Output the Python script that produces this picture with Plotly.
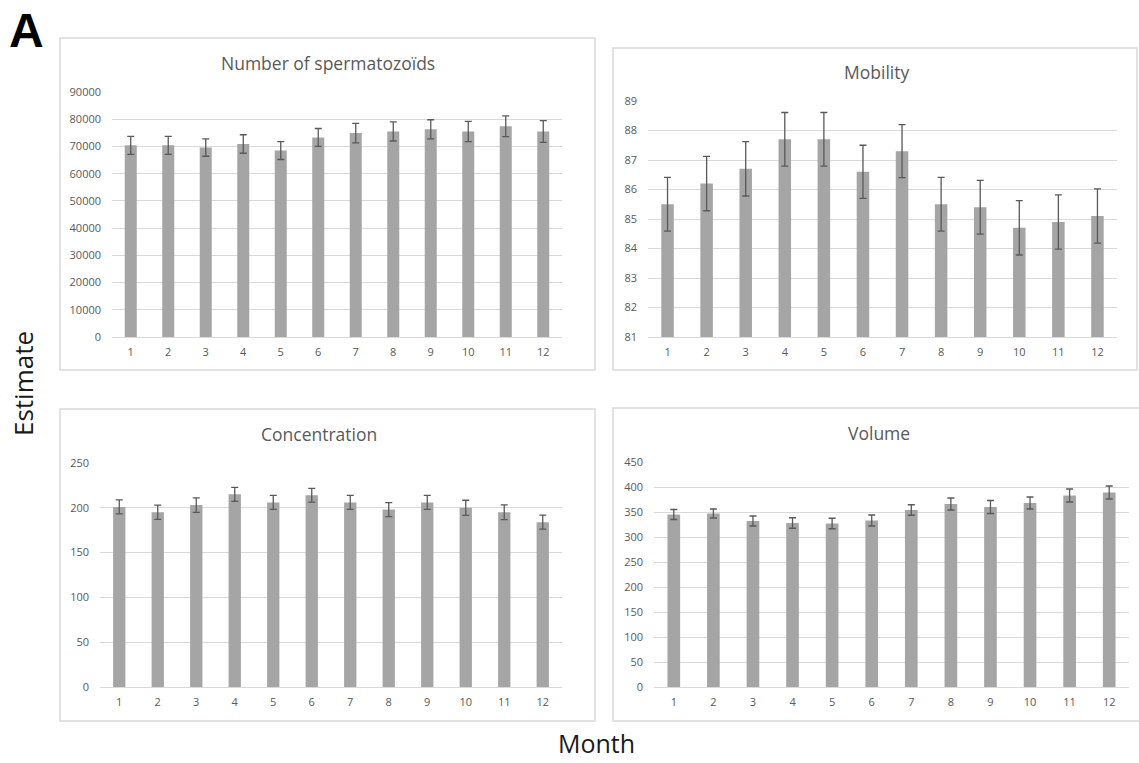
import plotly.graph_objects as go

W, H = 1139, 763

months = [str(m) for m in range(1, 13)]

sperm_count = [70400, 70400, 69600, 70900, 68500, 73300, 74900, 75500, 76300, 75500, 77400, 75500]
sperm_err = [3300, 3300, 3200, 3400, 3300, 3300, 3600, 3500, 3500, 3700, 3800, 4000]

mobility = [85.5, 86.2, 86.7, 87.7, 87.7, 86.6, 87.3, 85.5, 85.4, 84.7, 84.9, 85.1]
mobility_err = [0.91, 0.92, 0.92, 0.91, 0.91, 0.9, 0.9, 0.91, 0.91, 0.92, 0.92, 0.92]

concentration = [201, 195, 203, 215, 206, 214, 206, 198, 206, 200, 195, 184]
concentration_err = [7.8, 8.0, 8.0, 7.8, 7.8, 7.6, 7.8, 7.8, 7.8, 8.4, 8.2, 7.8]

volume = [345, 347, 332, 328, 327, 333, 354, 366, 360, 368, 383, 389]
volume_err = [10, 9, 10, 10.5, 10.5, 11, 10.5, 12, 13, 12, 13, 13]

titles = ["Number of spermatozoïds", "Mobility", "Concentration", "Volume"]

BAR = "#A5A5A5"
ERR = "#595959"
GRID = "#D9D9D9"
TXT = "#595959"
FONT = "Open Sans"


def px_x(x):
    return x / W


def px_y(y):
    return 1 - y / H


# plot areas in pixels: (x0, x1, ytop, ybottom)
areas = [
    (112, 562, 92, 337),
    (648, 1117, 101, 337),
    (100, 562, 463, 687),
    (654, 1129, 462, 687),
]
ranges = [[0, 90000], [81, 89], [0, 250], [0, 450]]
dticks = [10000, 1, 50, 50]
series = [(sperm_count, sperm_err), (mobility, mobility_err),
          (concentration, concentration_err), (volume, volume_err)]

fig = go.Figure()
layout = dict(
    width=W, height=H, margin=dict(l=0, r=0, t=0, b=0, pad=0, autoexpand=False),
    paper_bgcolor="white", plot_bgcolor="white", showlegend=False,
    bargap=0.68, font=dict(family=FONT, color=TXT),
)

for i, ((vals, errs), (x0, x1, yt, yb)) in enumerate(zip(series, areas)):
    n = "" if i == 0 else str(i + 1)
    fig.add_trace(go.Bar(
        x=months, y=vals, marker=dict(color=BAR, line=dict(width=0)),
        error_y=dict(type="data", array=errs, visible=True, color=ERR, thickness=1.3, width=3.5),
        xaxis="x" + n, yaxis="y" + n, hoverinfo="x+y",
    ))
    layout["xaxis" + n] = dict(
        domain=[px_x(x0), px_x(x1)], anchor="y" + n, type="category", automargin=False,
        showgrid=False, showline=True, linecolor=GRID, linewidth=1,
        ticks="", tickfont=dict(size=11, color=TXT, family=FONT), ticklabelstandoff=5,
        fixedrange=True,
    )
    layout["yaxis" + n] = dict(
        domain=[px_y(yb), px_y(yt)], anchor="x" + n, range=ranges[i], dtick=dticks[i],
        tick0=ranges[i][0], tickformat="d", showgrid=True, gridcolor=GRID, gridwidth=1,
        zeroline=False, showline=False, ticks="", automargin=False,
        tickfont=dict(size=11, color=TXT, family=FONT),
        ticklabelstandoff=10, fixedrange=True,
    )

fig.update_layout(**layout)

# panel frames
boxes = [(60, 595, 38, 370), (613, 1137, 48, 370), (60, 595, 409, 721), (613, 1150, 408, 721)]
for (bx0, bx1, by0, by1) in boxes:
    fig.add_shape(type="rect", xref="paper", yref="paper",
                  x0=px_x(bx0), x1=px_x(bx1), y0=px_y(by1), y1=px_y(by0),
                  line=dict(color=GRID, width=1.5), fillcolor="rgba(0,0,0,0)", layer="below")

title_pos = [(328, 63), (876, 72), (319, 434), (879, 433)]
for t, (tx, ty) in zip(titles, title_pos):
    fig.add_annotation(text=t, xref="paper", yref="paper", x=px_x(tx), y=px_y(ty),
                       xanchor="center", yanchor="middle", showarrow=False,
                       font=dict(size=17.5, color=TXT, family=FONT))

fig.add_annotation(text="<b>A</b>", xref="paper", yref="paper", x=px_x(26), y=px_y(30),
                   xanchor="center", yanchor="middle", showarrow=False,
                   font=dict(size=48, color="#000000", family="Liberation Sans"))
fig.add_annotation(text="Estimate", xref="paper", yref="paper", x=px_x(23), y=px_y(384),
                   xanchor="center", yanchor="middle", showarrow=False, textangle=-90,
                   font=dict(size=26, color="#1a1a1a", family=FONT))
fig.add_annotation(text="Month", xref="paper", yref="paper", x=px_x(596), y=px_y(762),
                   xanchor="center", yanchor="bottom", showarrow=False,
                   font=dict(size=25, color="#1a1a1a", family=FONT))

post = (
    "document.documentElement.style.margin='0';"
    "document.documentElement.style.overflow='hidden';"
    "document.body.style.margin='0';"
    "document.body.style.overflow='hidden';"
    "var d=document.getElementById('{plot_id}');"
    "d.style.position='fixed';d.style.top='0px';d.style.left='0px';"
)

fig.write_html("out.html", config={"displayModeBar": False}, post_script=post)
